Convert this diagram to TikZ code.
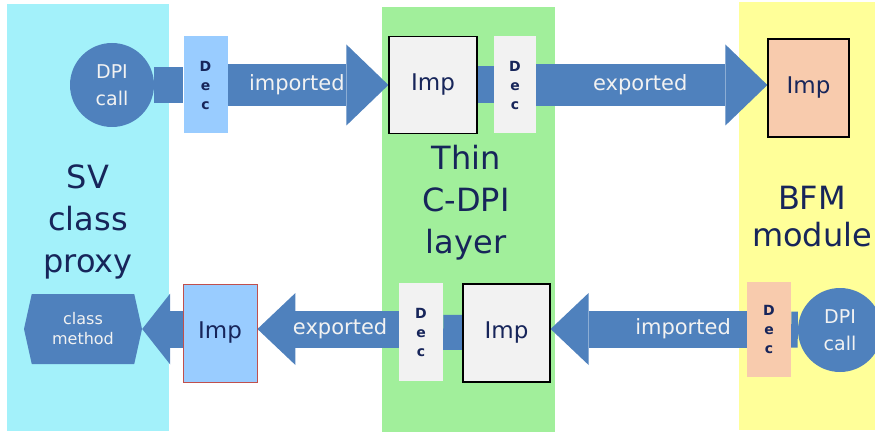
\documentclass[tikz,border=0pt]{standalone}
\usepackage{fontspec}
\setmainfont{DejaVu Sans}
\usetikzlibrary{arrows.meta,shapes.symbols}

\definecolor{navy}{HTML}{17255A}
\definecolor{arrowblue}{HTML}{4F81BD}
\definecolor{decblue}{HTML}{99CCFF}
\definecolor{impgrey}{HTML}{F2F2F2}
\definecolor{peach}{HTML}{F8CBAD}
\definecolor{impred}{HTML}{C0504D}
\definecolor{svcyan}{HTML}{A3F1FA}
\definecolor{cgreen}{HTML}{A1EF9B}
\definecolor{bfmyellow}{HTML}{FFFF99}

\pgfdeclarelayer{panel}
\pgfdeclarelayer{background}
\pgfsetlayers{panel,background,main}

\begin{document}
\begin{tikzpicture}[x=1pt, y=-1pt,
	paneltext/.style={text=navy, align=center, font=\fontsize{32}{42}\selectfont},
	decbox/.style={minimum width=44pt, minimum height=97pt, inner sep=0pt, align=center,
		text=navy, font=\bfseries\fontsize{14}{19}\selectfont},
	impbox/.style={draw=black, line width=1.2pt, minimum width=88pt, minimum height=97pt,
		inner sep=0pt, text=navy, font=\fontsize{23}{27}\selectfont},
	dpicall/.style={circle, fill=arrowblue, minimum size=84pt, inner sep=0pt, align=center,
		text=impgrey, font=\fontsize{19}{27}\selectfont},
	stemline/.style={draw=arrowblue, line width=36pt},
	arrowtext/.style={text=impgrey, font=\fontsize{21}{25}\selectfont},
	bigarrow/.style={draw=arrowblue, line width=42pt,
		-{Triangle[length=42pt, width=81pt, line width=0pt]}},
	lowarrow/.style={draw=arrowblue, line width=37pt,
		-{Triangle[length=38pt, width=72pt, line width=0pt]}}]

	\useasboundingbox (0,0) rectangle (875,433);

	% Schichten
	\begin{pgfonlayer}{panel}
	\fill[svcyan] (7,4) rectangle (169,431);
	\fill[cgreen] (382,7) rectangle (555,432);
	\fill[bfmyellow] (739,2) rectangle (880,430);
	\end{pgfonlayer}

	% Beschriftung Schichten
	\node[paneltext] (svtext) at (88,222) {SV\\class\\proxy};
	\node[paneltext] (cdpitext) at (466,203) {Thin\\C-DPI\\layer};
	\node[paneltext, font=\fontsize{32}{37}\selectfont] (bfmtext) at (812,217) {BFM\\module};

	% obere Reihe
	\node[dpicall] (svcall) at (112,85) {DPI\\call};
	\node[decbox, fill=decblue] (svdec) at (205.5,85) {D\\e\\c};
	\node[impbox, fill=impgrey] (cimp) at (433,85) {Imp};
	\node[decbox, minimum width=42pt, fill=impgrey] (cdec) at (515,85) {D\\e\\c};
	\node[impbox, fill=peach, minimum width=81pt, minimum height=98pt] (bfmimp) at (808.5,88) {Imp};

	% untere Reihe
	\node[signal, signal to=east and west, signal pointer angle=155, fill=arrowblue,
		minimum width=118pt, minimum height=70pt, inner sep=0pt, align=center,
		text=impgrey, font=\fontsize{16}{20}\selectfont] (svmethod) at (83,329) {class\\method};
	\node[impbox, draw=impred, line width=0.8pt, fill=decblue, minimum width=74pt,
		minimum height=98pt] (svimp) at (220,333) {Imp};
	\node[decbox, minimum height=98pt, fill=impgrey] (cdec2) at (421,332) {D\\e\\c};
	\node[impbox, fill=impgrey, minimum width=87pt, minimum height=98pt] (cimp2) at (506.5,333) {Imp};
	\node[decbox, minimum height=95pt, fill=peach] (bfmdec) at (769,329.5) {D\\e\\c};
	\node[dpicall] (bfmcall) at (840,330) {DPI\\call};

	% Pfeile
	\begin{pgfonlayer}{background}
	\draw[stemline] (svcall) -- (svdec);
	\draw[bigarrow] (svdec.east) -- (cimp.west) node[arrowtext, pos=0.43] {imported};
	\draw[stemline, line width=37pt] (cimp) -- (cdec);
	\draw[bigarrow] (cdec.east) -- (cdec.east -| bfmimp.west) node[arrowtext, pos=0.45] {exported};

	\draw[lowarrow, -{Triangle[length=28pt, width=71pt, line width=0pt]}]
		(svimp.west |- svmethod.east) -- (svmethod.east);
	\draw[lowarrow] (cdec2.west |- svmethod.east) -- (svimp.east |- svmethod.east)
		node[arrowtext, pos=0.415] {exported};
	\draw[stemline, line width=35pt] (cimp2) -- (cdec2);
	\draw[lowarrow] (bfmdec.west |- svmethod.east) -- (cimp2.east |- svmethod.east)
		node[arrowtext, pos=0.325] {imported};
	\draw[stemline] (bfmcall) -- (bfmdec);
	\end{pgfonlayer}

\end{tikzpicture}
\end{document}
